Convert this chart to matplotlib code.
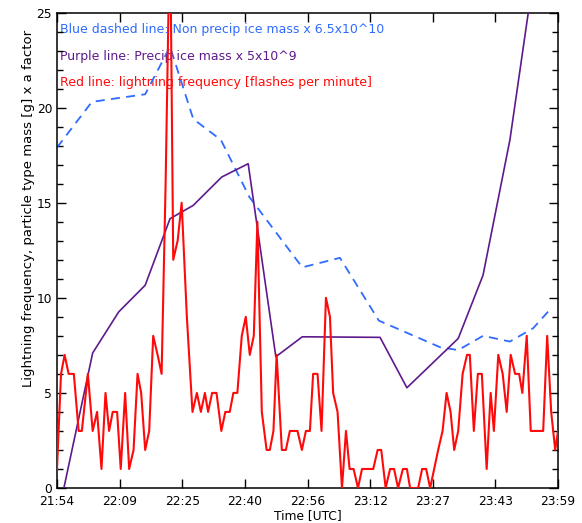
import matplotlib
matplotlib.use("Agg")
import matplotlib.pyplot as plt
from matplotlib.ticker import MultipleLocator

# ---- data (time in minutes after 21:54 UTC) ----
tick_labels = ["21:54", "22:09", "22:25", "22:40", "22:56", "23:12", "23:27", "23:43", "23:59"]
t_span = 125.0

blue_t = [0.0, 8.7, 15.2, 22.0, 28.2, 34.0, 40.9, 48.0, 61.2, 70.6, 80.3, 95.6, 100.1, 106.3, 113.0, 118.8, 123.5]
blue_v = [17.9, 20.3, 20.5, 20.7, 23.2, 19.4, 18.3, 15.3, 11.6, 12.1, 8.8, 7.4, 7.25, 8.0, 7.7, 8.4, 9.5]

purple_t = [0.0, 8.9, 15.4, 22.0, 28.2, 34.0, 41.1, 47.7, 54.6, 61.2, 80.6, 87.3, 100.1, 106.3, 113.0, 119.3, 125.0]
purple_v = [-1.7, 7.1, 9.26, 10.66, 14.16, 14.86, 16.35, 17.05, 6.9, 7.95, 7.92, 5.27, 7.86, 11.19, 18.3, 27.5, 45.0]

red_t = [0.0, 1.0, 1.9, 2.9, 4.2, 5.4, 6.2, 7.7, 8.9, 10.0, 11.1, 12.1, 13.0, 13.9, 15.0, 15.9,
         17.0, 18.0, 19.1, 20.1, 21.0, 22.0, 23.0, 24.0, 25.1, 26.1, 27.1, 28.2, 29.0, 30.1,
         31.1, 32.4, 33.8, 34.9, 35.9, 36.9, 37.7, 38.7, 39.8, 41.0, 42.0, 43.1, 44.0, 45.0,
         46.1, 47.1, 48.1, 49.1, 50.0, 51.1, 52.3, 53.1, 54.0, 54.8, 56.1, 57.1, 58.1, 59.0,
         60.0, 61.1, 62.1, 63.1, 63.9, 65.0, 66.0, 67.1, 68.1, 68.9, 70.0, 71.1, 72.1, 73.0,
         74.0, 75.1, 76.1, 77.1, 78.1, 78.9, 80.0, 80.9, 82.0, 83.1, 84.1, 85.1, 86.3, 87.3,
         88.1, 89.1, 90.1, 91.1, 92.1, 93.1, 94.1, 95.1, 96.2, 97.2, 98.2, 99.1, 100.1, 101.2,
         102.3, 103.0, 104.0, 105.0, 106.0, 107.2, 108.2, 109.0, 110.1, 111.2, 112.2, 113.2,
         114.3, 115.3, 116.1, 117.2, 118.2, 119.3, 120.3, 121.3, 122.3, 123.3, 124.3, 125.0]
red_v = [1, 6, 7, 6, 6, 3, 3, 6, 3, 4, 1, 5, 3, 4, 4, 1,
         5, 1, 2, 6, 5, 2, 3, 8, 7, 6, 16, 30, 12, 13,
         15, 9, 4, 5, 4, 5, 4, 5, 5, 3, 4, 4, 5, 5,
         8, 9, 7, 8, 14, 4, 2, 2, 3, 7, 2, 2, 3, 3,
         3, 2, 3, 3, 6, 6, 3, 10, 9, 5, 4, 0, 3, 1,
         1, 0, 1, 1, 1, 1, 2, 2, 0, 1, 1, 0, 1, 1,
         0, 0, 0, 1, 1, 0, 1, 2, 3, 5, 4, 2, 3, 6,
         7, 7, 3, 6, 6, 1, 5, 3, 7, 6, 4, 7,
         6, 6, 5, 8, 3, 3, 3, 3, 8, 4, 2, 3]

legend_lines = ["Blue dashed line: Non precip ice mass x 6.5x10^10",
                "Purple line: Precip ice mass x 5x10^9",
                "Red line: lightning frequency [flashes per minute]"]

c_blue = "#2f6bff"
c_purple = "#5e1a8c"
c_red = "#ff0a0a"

fig = plt.figure(figsize=(5.82, 5.23), dpi=100)
ax = fig.add_axes([57 / 582, 1 - 488 / 523, 501 / 582, 475.5 / 523])

ax.plot(blue_t, blue_v, color=c_blue, lw=1.3, dashes=(5, 3.5), zorder=2)
ax.plot(purple_t, purple_v, color=c_purple, lw=1.2, zorder=3)
ax.plot(red_t, red_v, color=c_red, lw=1.5, zorder=4)

ax.set_xlim(0, t_span)
ax.set_ylim(0, 25)

ax.set_xticks([k * t_span / 8 for k in range(9)])
ax.set_xticklabels(tick_labels)
ax.set_yticks([0, 5, 10, 15, 20, 25])
ax.yaxis.set_minor_locator(MultipleLocator(1))
ax.tick_params(axis="both", which="major", direction="in", top=True, right=True,
               length=6.5, width=1, labelsize=8.8, colors="black")
ax.tick_params(axis="x", which="major", pad=5)
ax.tick_params(axis="y", which="major", pad=3.5)
ax.tick_params(axis="y", which="minor", direction="in", left=True, right=True,
               length=4, width=1)
for s in ax.spines.values():
    s.set_linewidth(1.1)

ys = [24.1, 22.7, 21.3]
cols = [c_blue, c_purple, c_red]
for txt, yv, c in zip(legend_lines, ys, cols):
    ax.text(0.7, yv, txt, color=c, fontsize=9.0, va="center", ha="left", zorder=1)

fig.text(308 / 582, 1 - 516 / 523, "Time [UTC]", ha="center", va="center", fontsize=8.8)
fig.text(29 / 582, 1 - 208 / 523, "Lightning frequency, particle type mass [g] x a factor",
         rotation=90, ha="center", va="center", fontsize=9.5)

fig.savefig("out.png", dpi=100)
